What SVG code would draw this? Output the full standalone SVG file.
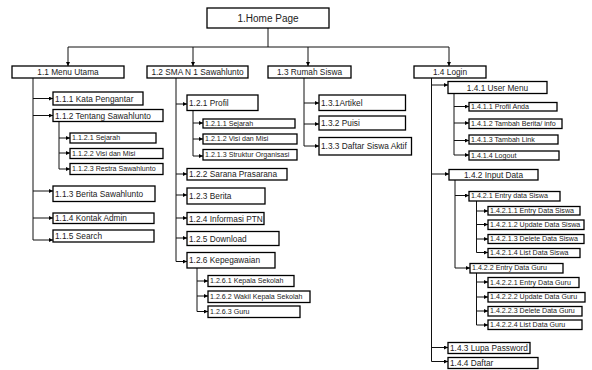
<svg xmlns="http://www.w3.org/2000/svg" width="592" height="370" viewBox="0 0 592 370">
<style>
rect{fill:#fff;stroke:#000;stroke-width:1.3}
text{font-family:"Liberation Sans",Arial,sans-serif;fill:#222;dominant-baseline:central}
.t1{font-size:10px;text-anchor:middle}
.t2{font-size:8.3px}
.c{text-anchor:middle}
.t3{font-size:7.1px}
#connectors path{fill:none;stroke:#111;stroke-width:1}
#connectors path.a{marker-end:url(#arr)}
</style>
<defs>
<marker id="arr" viewBox="0 0 6 6" refX="6" refY="3" markerWidth="4" markerHeight="4" orient="auto" markerUnits="userSpaceOnUse"><path d="M0,0 L6,3 L0,6 z" fill="#000"/></marker>
</defs>
<rect x="0" y="0" width="592" height="370" style="stroke:none"/>
<g id="connectors">
<path d="M268,28 V47 M68,47 H449"/>
<path class="a" d="M68,47 V66"/><path class="a" d="M193,47 V66"/><path class="a" d="M308,47 V66"/><path class="a" d="M449,47 V66"/>
<path d="M33,78 V240"/>
<path class="a" d="M33,98.5 H53"/><path class="a" d="M33,115.5 H53"/><path class="a" d="M33,191 H53"/><path class="a" d="M33,218 H53"/><path class="a" d="M33,240 H53"/>
<path d="M59,121.5 V169"/>
<path class="a" d="M59,138 H70"/><path class="a" d="M59,153 H70"/><path class="a" d="M59,169 H70"/>
<path d="M176,78 V261.5"/>
<path class="a" d="M176,104 H187"/><path class="a" d="M176,174 H187"/><path class="a" d="M176,195 H187"/><path class="a" d="M176,218 H187"/><path class="a" d="M176,238 H187"/><path class="a" d="M176,261.5 H187"/>
<path d="M193,110.5 V156"/>
<path class="a" d="M193,123 H203"/><path class="a" d="M193,139 H203"/><path class="a" d="M193,156 H203"/>
<path d="M197,268 V311.5"/>
<path class="a" d="M197,281 H208"/><path class="a" d="M197,296 H208"/><path class="a" d="M197,311.5 H208"/>
<path d="M304,78 V146"/>
<path class="a" d="M304,103 H319"/><path class="a" d="M304,124 H319"/><path class="a" d="M304,146 H319"/>
<path d="M431.5,78 V361.5"/>
<path class="a" d="M431.5,85 H448"/><path class="a" d="M431.5,174 H449"/><path class="a" d="M431.5,347.5 H448"/><path class="a" d="M431.5,361.5 H448"/>
<path d="M454,93.5 V155"/>
<path class="a" d="M454,106.5 H469"/><path class="a" d="M454,123 H469"/><path class="a" d="M454,140.5 H469"/><path class="a" d="M454,155 H469"/>
<path d="M455,180 V268"/>
<path class="a" d="M455,195.5 H469"/><path class="a" d="M455,268 H470"/>
<path d="M476.5,201 V252.5"/>
<path class="a" d="M476.5,211 H488"/><path class="a" d="M476.5,224.5 H488"/><path class="a" d="M476.5,239 H488"/><path class="a" d="M476.5,252.5 H488"/>
<path d="M476.5,273 V325"/>
<path class="a" d="M476.5,282 H488"/><path class="a" d="M476.5,297 H488"/><path class="a" d="M476.5,311 H488"/><path class="a" d="M476.5,325 H488"/>
</g>
<g id="n1"><rect x="207" y="8" width="122" height="20"/><text class="t1" x="268" y="18">1.Home Page</text></g>
<g id="n1-1"><rect x="12" y="66" width="112" height="12"/><text class="t2 c" x="68" y="72">1.1 Menu Utama</text></g>
<g id="n1-2"><rect x="147" y="66" width="101" height="12"/><text class="t2 c" x="197.5" y="72">1.2 SMA N 1 Sawahlunto</text></g>
<g id="n1-3"><rect x="268" y="66" width="83" height="12"/><text class="t2 c" x="309.5" y="72">1.3 Rumah Siswa</text></g>
<g id="n1-4"><rect x="414" y="66" width="72" height="12"/><text class="t2 c" x="450" y="72">1.4 Login</text></g>

<g id="n1-1-1"><rect x="53" y="92" width="90" height="13"/><text class="t2" x="55" y="98.5">1.1.1 Kata Pengantar</text></g>
<g id="n1-1-2"><rect x="53" y="109.5" width="110" height="12"/><text class="t2" x="55" y="115.5">1.1.2 Tentang Sawahlunto</text></g>
<g id="n1-1-2-1"><rect x="70" y="133" width="86" height="10"/><text class="t3" x="72" y="138">1.1.2.1 Sejarah</text></g>
<g id="n1-1-2-2"><rect x="70" y="148.5" width="93" height="10"/><text class="t3" x="72" y="153.5">1.1.2.2 Visi dan Misi</text></g>
<g id="n1-1-2-3"><rect x="70" y="163.5" width="93" height="11"/><text class="t3" x="72" y="169">1.1.2.3 Restra Sawahlunto</text></g>
<g id="n1-1-3"><rect x="53" y="186" width="102" height="15.5"/><text class="t2" x="55" y="193.5">1.1.3 Berita Sawahlunto</text></g>
<g id="n1-1-4"><rect x="53" y="213" width="101" height="10.5"/><text class="t2" x="55" y="218">1.1.4 Kontak Admin</text></g>
<g id="n1-1-5"><rect x="53" y="230" width="101" height="12"/><text class="t2" x="55" y="236">1.1.5 Search</text></g>

<g id="n1-2-1"><rect x="187" y="95" width="71" height="15.5"/><text class="t2" x="189" y="102.5">1.2.1 Profil</text></g>
<g id="n1-2-1-1"><rect x="203" y="119" width="92" height="9"/><text class="t3" x="205" y="123.5">1.2.1.1 Sejarah</text></g>
<g id="n1-2-1-2"><rect x="203" y="134" width="94" height="10"/><text class="t3" x="205" y="139">1.2.1.2 Visi dan Misi</text></g>
<g id="n1-2-1-3"><rect x="203" y="149.5" width="94" height="10.5"/><text class="t3" x="205" y="154.8">1.2.1.3 Struktur Organisasi</text></g>
<g id="n1-2-2"><rect x="187" y="168.5" width="100" height="11.5"/><text class="t2" x="189" y="174.3">1.2.2 Sarana Prasarana</text></g>
<g id="n1-2-3"><rect x="187" y="188" width="78" height="16"/><text class="t2" x="189" y="196">1.2.3 Berita</text></g>
<g id="n1-2-4"><rect x="187" y="212.5" width="77" height="12"/><text class="t2" x="189" y="218.5">1.2.4 Informasi PTN</text></g>
<g id="n1-2-5"><rect x="187" y="231.5" width="92" height="14"/><text class="t2" x="189" y="238.5">1.2.5 Download</text></g>
<g id="n1-2-6"><rect x="187" y="252.5" width="88" height="15.5"/><text class="t2" x="189" y="260">1.2.6 Kepegawaian</text></g>
<g id="n1-2-6-1"><rect x="208" y="275.5" width="86" height="11"/><text class="t3" x="210" y="281">1.2.6.1 Kepala Sekolah</text></g>
<g id="n1-2-6-2"><rect x="208" y="291" width="102" height="11.5"/><text class="t3" x="210" y="296.8">1.2.6.2 Wakil Kepala Sekolah</text></g>
<g id="n1-2-6-3"><rect x="208" y="306" width="92" height="11.5"/><text class="t3" x="210" y="311.8">1.2.6.3 Guru</text></g>

<g id="n1-3-1"><rect x="319" y="95" width="86.5" height="15.5"/><text class="t2" x="321" y="102.8">1.3.1Artikel</text></g>
<g id="n1-3-2"><rect x="319" y="116" width="86.5" height="14"/><text class="t2" x="321" y="123">1.3.2 Puisi</text></g>
<g id="n1-3-3"><rect x="319" y="137.5" width="92.5" height="17.5"/><text class="t2" x="321" y="146.3">1.3.3 Daftar Siswa Aktif</text></g>

<g id="n1-4-1"><rect x="448" y="81.5" width="99" height="12"/><text class="t2 c" x="497.5" y="87.5">1.4.1 User Menu</text></g>
<g id="n1-4-1-1"><rect x="469" y="102.5" width="88" height="8.5"/><text class="t3" x="471" y="106.8">1.4.1.1 Profil Anda</text></g>
<g id="n1-4-1-2"><rect x="469" y="119" width="93" height="9.5"/><text class="t3" x="471" y="123.8">1.4.1.2 Tambah Berita/ info</text></g>
<g id="n1-4-1-3"><rect x="469" y="135" width="89" height="9"/><text class="t3" x="471" y="139.5">1.4.1.3 Tambah Link</text></g>
<g id="n1-4-1-4"><rect x="469" y="151" width="90" height="9"/><text class="t3" x="471" y="155.5">1.4.1.4 Logout</text></g>
<g id="n1-4-2"><rect x="449" y="169.5" width="89" height="10.5"/><text class="t2 c" x="493.5" y="174.8">1.4.2 Input Data</text></g>
<g id="n1-4-2-1"><rect x="469" y="191.5" width="91" height="9.5"/><text class="t3" x="471" y="196.3">1.4.2.1 Entry data Siswa</text></g>
<g id="n1-4-2-1-1"><rect x="488" y="206.5" width="92" height="8.5"/><text class="t3" x="490" y="210.8">1.4.2.1.1 Entry Data Siswa</text></g>
<g id="n1-4-2-1-2"><rect x="488" y="220" width="96" height="9.5"/><text class="t3" x="490" y="224.8">1.4.2.1.2 Update Data Siswa</text></g>
<g id="n1-4-2-1-3"><rect x="488" y="234.5" width="96" height="9"/><text class="t3" x="490" y="239">1.4.2.1.3 Delete Data Siswa</text></g>
<g id="n1-4-2-1-4"><rect x="488" y="248.5" width="92" height="9"/><text class="t3" x="490" y="253">1.4.2.1.4 List Data Siswa</text></g>
<g id="n1-4-2-2"><rect x="470" y="263.5" width="93" height="9.5"/><text class="t3" x="472" y="268.3">1.4.2.2 Entry Data Guru</text></g>
<g id="n1-4-2-2-1"><rect x="488" y="277.5" width="91" height="10"/><text class="t3" x="490" y="282.5">1.4.2.2.1 Entry Data Guru</text></g>
<g id="n1-4-2-2-2"><rect x="488" y="292.5" width="97" height="9.5"/><text class="t3" x="490" y="297.3">1.4.2.2.2 Update Data Guru</text></g>
<g id="n1-4-2-2-3"><rect x="488" y="306.5" width="94" height="9.5"/><text class="t3" x="490" y="311.3">1.4.2.2.3 Delete Data Guru</text></g>
<g id="n1-4-2-2-4"><rect x="488" y="320" width="94" height="9.5"/><text class="t3" x="490" y="324.8">1.4.2.2.4 List Data Guru</text></g>
<g id="n1-4-3"><rect x="448" y="342.5" width="82" height="11"/><text class="t2" x="450" y="348">1.4.3 Lupa Password</text></g>
<g id="n1-4-4"><rect x="448" y="357.5" width="90" height="11"/><text class="t2" x="450" y="363">1.4.4 Daftar</text></g>
</svg>
